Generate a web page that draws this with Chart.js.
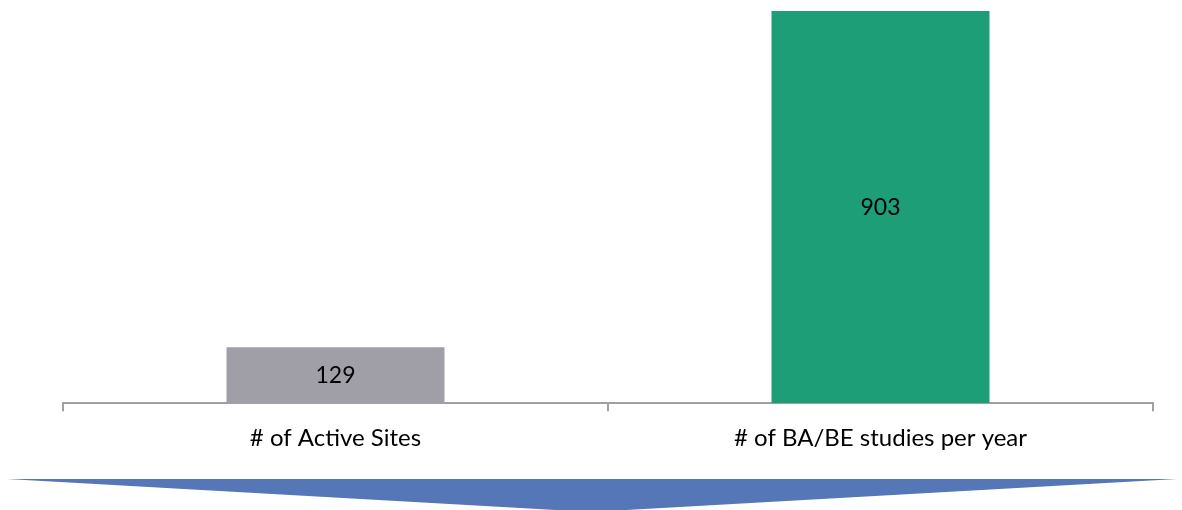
<!DOCTYPE html>
<html>
<head>
<meta charset="utf-8">
<script src="https://cdn.jsdelivr.net/npm/chart.js@4/dist/chart.umd.min.js"></script>
<style>
  html, body { margin: 0; padding: 0; background: #ffffff; }
  #wrap { position: relative; width: 1182px; height: 510px; }
</style>
</head>
<body>
<div id="wrap"><canvas id="chart" width="1182" height="510"></canvas></div>
<script>
const categories = ['# of Active Sites', '# of BA/BE studies per year'];
const values = [129, 903];
const barColors = ['#a09fa8', '#1d9e76'];

const FONT = 'Lato';

// value printed in the middle of each bar
const centerLabels = {
    id: 'centerLabels',
    afterDatasetsDraw(chart) {
        const ctx = chart.ctx;
        const meta = chart.getDatasetMeta(0);
        ctx.save();
        ctx.fillStyle = '#000000';
        ctx.font = '23px ' + FONT;
        ctx.textAlign = 'center';
        ctx.textBaseline = 'middle';
        meta.data.forEach((bar, i) => {
            const mid = (bar.y + bar.base) / 2;
            ctx.fillText(String(values[i]), bar.x, mid);
        });
        ctx.restore();
    }
};

// blue down-pointing chevron under the axis
const arrowBand = {
    id: 'arrowBand',
    afterDraw(chart) {
        const ctx = chart.ctx;
        const w = chart.width;
        ctx.save();
        ctx.fillStyle = '#5577b8';
        ctx.beginPath();
        ctx.moveTo(7, 479);
        ctx.lineTo(w - 5, 479);
        ctx.lineTo(w / 2, 512);
        ctx.closePath();
        ctx.fill();
        ctx.restore();
    }
};

new Chart(document.getElementById('chart'), {
    type: 'bar',
    data: {
        labels: categories,
        datasets: [{
            data: values,
            backgroundColor: barColors,
            barPercentage: 0.4,
            categoryPercentage: 1.0
        }]
    },
    options: {
        responsive: false,
        animation: false,
        layout: { padding: { left: 63, right: 29, top: 11, bottom: 44 } },
        plugins: { legend: { display: false }, tooltip: { enabled: false } },
        scales: {
            x: {
                grid: {
                    offset: true,
                    drawOnChartArea: false,
                    drawTicks: true,
                    tickLength: 8,
                    color: '#a0a0a0',
                    lineWidth: 2
                },
                border: { display: true, color: '#a0a0a0', width: 2 },
                ticks: {
                    color: '#000000',
                    font: { family: FONT, size: 24 },
                    padding: 13
                }
            },
            y: {
                display: false,
                min: 0,
                max: 903
            }
        }
    },
    plugins: [centerLabels, arrowBand]
});
</script>
</body>
</html>
